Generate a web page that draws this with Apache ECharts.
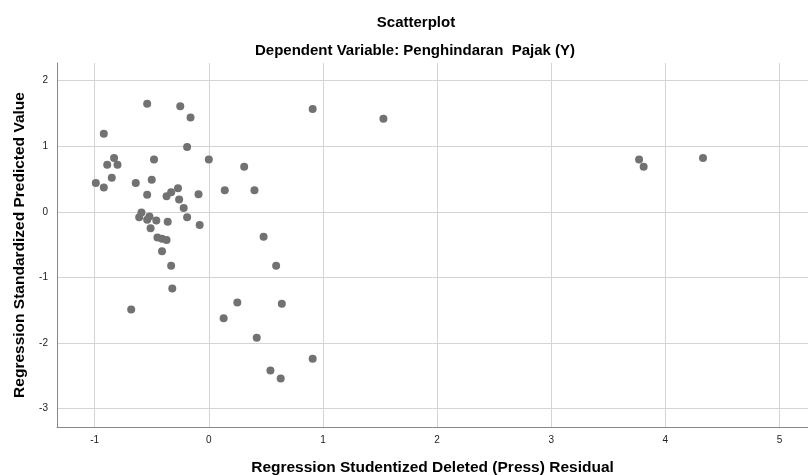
<!DOCTYPE html>
<html>
<head>
<meta charset="utf-8">
<script src="https://cdn.jsdelivr.net/npm/echarts@6/dist/echarts.min.js"></script>
<style>
  html, body { margin: 0; padding: 0; background: #fff; }
  #chart { width: 808px; height: 475px; }
</style>
</head>
<body>
<div id="chart"></div>
<script>
// studentized deleted residual (x) vs standardized predicted value (y)
var residualX = [
  -0.54, -0.25, -0.16, -0.92, -0.19, -0.83, -0.48, 0.00, -0.89, -0.80,
  -0.85, -0.50, -0.99, -0.64, -0.92, -0.27, 0.14, -0.33, -0.54, -0.37,
  -0.09, -0.26, -0.22, -0.59, -0.61, -0.19, -0.52, -0.54, -0.46, -0.36,
  -0.08, -0.51, -0.45, -0.41, -0.37, -0.41, -0.33, -0.32, -0.68, 0.13,
  0.25, 0.48, 0.59, 0.64, 0.42, 0.91, 0.54, 0.63, 0.91, 1.53,
  0.31, 0.40, 3.77, 3.81, 4.33
];
var predictedY = [
  1.65, 1.61, 1.44, 1.19, 0.99, 0.82, 0.80, 0.80, 0.72, 0.72,
  0.52, 0.49, 0.44, 0.44, 0.37, 0.36, 0.33, 0.30, 0.26, 0.24,
  0.27, 0.19, 0.06, -0.01, -0.08, -0.08, -0.07, -0.12, -0.13, -0.15,
  -0.20, -0.25, -0.39, -0.41, -0.43, -0.60, -0.82, -1.17, -1.49, -1.62,
  -1.38, -0.38, -0.82, -1.40, -1.92, -2.24, -2.42, -2.54, 1.57, 1.42,
  0.69, 0.33, 0.80, 0.69, 0.82
];
var xTicks = [-1, 0, 1, 2, 3, 4, 5];
var yTicks = [-3, -2, -1, 0, 1, 2];

var points = residualX.map(function (x, i) { return [x, predictedY[i]]; });

var chart = echarts.init(document.getElementById('chart'));
var font = 'Arial, "Liberation Sans", sans-serif';

var option = {
  animation: false,
  backgroundColor: '#fff',
  title: [
    {
      text: 'Scatterplot',
      left: 411, top: 10,
      textAlign: 'center',
      textStyle: { fontFamily: font, fontSize: 15, fontWeight: 'bold', color: '#000' }
    },
    {
      text: 'Dependent Variable: Penghindaran  Pajak (Y)',
      left: 410, top: 38,
      textAlign: 'center',
      textStyle: { fontFamily: font, fontSize: 15, fontWeight: 'bold', color: '#000' }
    }
  ],
  grid: { left: 57, right: 0, top: 63, bottom: 48, outerBoundsMode: 'none', containLabel: false },
  xAxis: {
    type: 'value',
    min: -1.33, max: 5.25,
    name: 'Regression Studentized Deleted (Press) Residual',
    nameLocation: 'middle',
    nameGap: 33,
    nameTextStyle: { fontFamily: font, fontSize: 15.5, fontWeight: 'bold', color: '#000' },
    axisLine: { show: true, onZero: false, lineStyle: { color: '#888', width: 1 } },
    axisTick: { show: false, customValues: xTicks },
    axisLabel: { customValues: xTicks, margin: 8, fontFamily: font, fontSize: 10, color: '#222' },
    splitLine: { show: true, lineStyle: { color: '#d4d4d4', width: 1 } }
  },
  yAxis: {
    type: 'value',
    min: -3.28, max: 2.27,
    name: 'Regression Standardized Predicted Value',
    nameLocation: 'middle',
    nameGap: 29,
    nameTextStyle: { fontFamily: font, fontSize: 15.5, fontWeight: 'bold', color: '#000' },
    axisLine: { show: true, onZero: false, lineStyle: { color: '#888', width: 1 } },
    axisTick: { show: false, customValues: yTicks },
    axisLabel: { customValues: yTicks, margin: 9, fontFamily: font, fontSize: 10, color: '#222' },
    splitLine: { show: true, lineStyle: { color: '#d4d4d4', width: 1 } }
  },
  series: [
    {
      type: 'scatter',
      data: points,
      symbol: 'circle',
      symbolSize: 8,
      itemStyle: { color: '#727272', opacity: 1 }
    }
  ]
};

chart.setOption(option);
</script>
</body>
</html>
